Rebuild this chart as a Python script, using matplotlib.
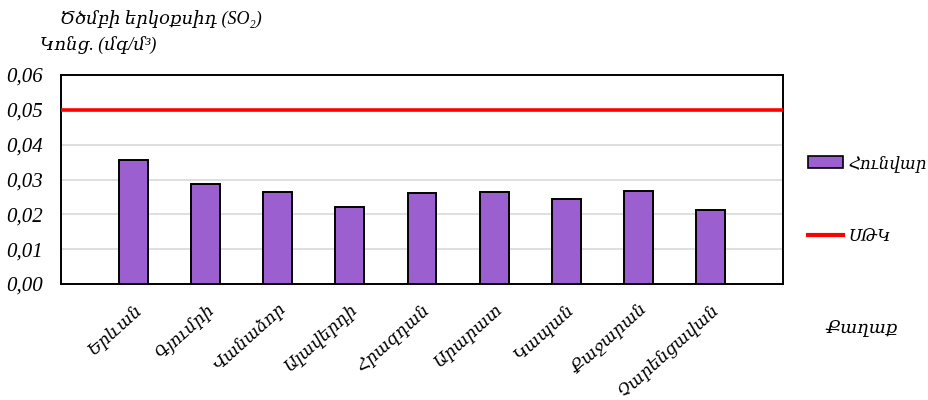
import matplotlib
matplotlib.use("Agg")
import matplotlib.pyplot as plt
from matplotlib.patches import Patch
from matplotlib.lines import Line2D

plt.rcParams['font.family'] = ['Liberation Serif', 'DejaVu Serif', 'DejaVu Sans']
plt.rcParams['font.style'] = 'italic'

cities = ['Երևան', 'Գյումրի', 'Վանաձոր', 'Ալավերդի', 'Հրազդան',
          'Արարատ', 'Կապան', 'Քաջարան', 'Չարենցավան']
january = [0.0356, 0.0288, 0.0263, 0.0222, 0.0260, 0.0263, 0.0245, 0.0267, 0.0212]
limit = 0.05
yticks = [0.00, 0.01, 0.02, 0.03, 0.04, 0.05, 0.06]

fig = plt.figure(figsize=(9.29, 4.0), dpi=100)
ax = fig.add_axes([0.0657, 0.29, 0.777, 0.5225])

x = list(range(1, len(cities) + 1))
ax.bar(x, january, width=0.4, color='#9C5FCF', edgecolor='black', linewidth=1.4, zorder=3)
ax.axhline(limit, color='#FF0000', linewidth=2.6, zorder=4)

ax.set_xlim(0, 10)
ax.set_ylim(0, 0.06)
ax.set_yticks(yticks)
ax.set_yticklabels([f'{v:.2f}'.replace('.', ',') for v in yticks], fontsize=15)
ax.set_xticks(x)
ax.set_xticklabels(cities, rotation=42, ha='right', rotation_mode='anchor', fontsize=12.5)
ax.tick_params(axis='y', length=0, pad=13)
ax.tick_params(axis='x', length=0, pad=12)
ax.grid(axis='y', color='#D9D9D9', linewidth=1.2, zorder=0)
for s in ax.spines.values():
    s.set_color('black')
    s.set_linewidth(1.4)

fig.text(0.065, 0.95, 'Ծծմբի երկօքսիդ (SO₂)', fontsize=13, ha='left', va='center')
fig.text(0.043, 0.888, 'Կոնց. (մգ/մ³)', fontsize=13, ha='left', va='center')
fig.text(0.889, 0.18, 'Քաղաք', fontsize=13, ha='left', va='center')

handles = [Patch(facecolor='#9C5FCF', edgecolor='black', linewidth=1.2),
           Line2D([0], [0], color='#FF0000', linewidth=3)]
fig.legend(handles, ['Հունվար', 'ՍԹԿ'], loc='center left', bbox_to_anchor=(0.8695, 0.50),
           frameon=False, fontsize=12, labelspacing=3.4, handlelength=2.1,
           handleheight=0.7, handletextpad=0.35, borderpad=0, borderaxespad=0)

fig.savefig('out.png', dpi=100)
